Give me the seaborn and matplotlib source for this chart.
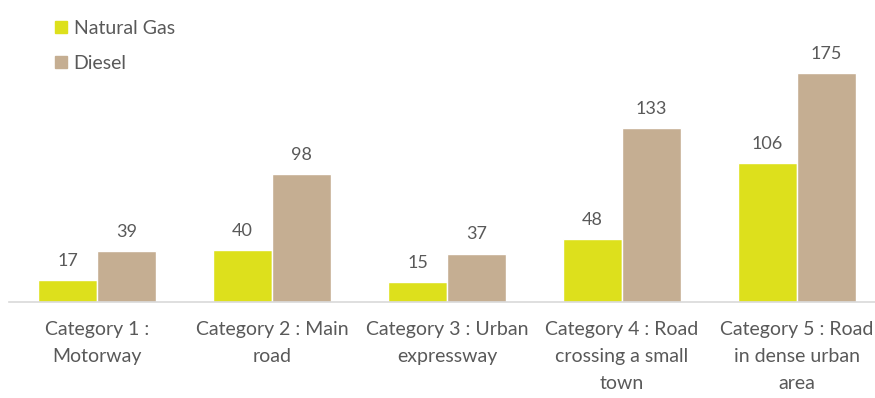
import matplotlib
matplotlib.use("Agg")
import matplotlib.pyplot as plt
from matplotlib.lines import Line2D
import seaborn as sns
import pandas as pd

categories = [
    "Category 1 :\nMotorway",
    "Category 2 : Main\nroad",
    "Category 3 : Urban\nexpressway",
    "Category 4 : Road\ncrossing a small\ntown",
    "Category 5 : Road\nin dense urban\narea",
]
natural_gas = [17, 40, 15, 48, 106]
diesel = [39, 98, 37, 133, 175]
series = ["Natural Gas", "Diesel"]
colors = {"Natural Gas": "#DDE01C", "Diesel": "#C5AE92"}
text_color = "#595959"

df = pd.DataFrame({
    "category": categories * 2,
    "fuel": [series[0]] * len(categories) + [series[1]] * len(categories),
    "value": natural_gas + diesel,
})

sns.set_theme(style="white")
plt.rcParams["font.family"] = ["Lato", "DejaVu Sans"]

fig = plt.figure(figsize=(8.75, 3.98), dpi=100)
ax = fig.add_axes([0, 0.241, 1, 0.759])

sns.barplot(data=df, x="category", y="value", hue="fuel", hue_order=series,
            palette=colors, width=0.67, gap=0, saturation=1, legend=False, ax=ax)

for cont in ax.containers:
    ax.bar_label(cont, padding=8, fontsize=13, color=text_color)

ax.set_xlim(-0.554, 4.446)
ax.set_ylim(0, 230.5)
ax.set_xlabel("")
ax.set_ylabel("")
ax.set_yticks([])
for side in ["top", "left", "right"]:
    ax.spines[side].set_visible(False)
ax.spines["bottom"].set_color("#D9D9D9")
ax.spines["bottom"].set_linewidth(1.2)
ax.spines["bottom"].set_bounds(-0.5, 4.446)
ax.tick_params(axis="x", length=0, pad=13.5, labelsize=14, labelcolor=text_color)
for lbl in ax.get_xticklabels():
    lbl.set_linespacing(1.72)
    lbl.set_verticalalignment("top")

handles = [Line2D([], [], marker="s", linestyle="", markersize=8,
                  markerfacecolor=colors[s], markeredgecolor=colors[s])
           for s in series]
fig.legend(handles, series, loc="upper left", bbox_to_anchor=(0.052, 0.975),
           frameon=False, fontsize=14, labelcolor=text_color,
           handlelength=0.6, handletextpad=0.35, labelspacing=0.95,
           borderpad=0)

fig.savefig("out.png", dpi=100)
